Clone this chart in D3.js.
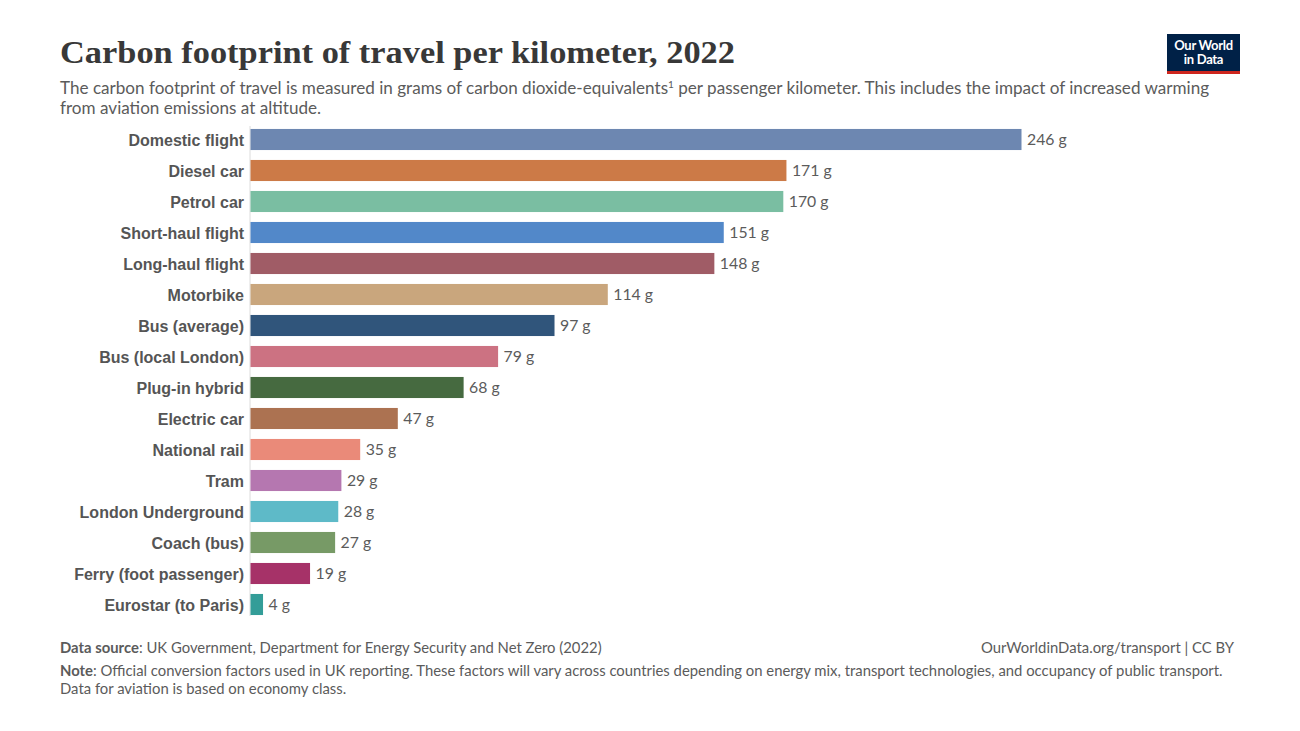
<!DOCTYPE html>
<html lang="en">
<head>
<meta charset="UTF-8">
<title>Carbon footprint of travel per kilometer</title>
<script src="https://cdn.jsdelivr.net/npm/d3@7"></script>
<style>
  body { margin: 0; background: #fff; }
  text { font-family: Lato, "Noto Sans", sans-serif; }
</style>
</head>
<body>
<svg id="chart" width="1300" height="731"></svg>
<script>
    // data
    const modes = ["Domestic flight", "Diesel car", "Petrol car", "Short-haul flight", "Long-haul flight",
        "Motorbike", "Bus (average)", "Bus (local London)", "Plug-in hybrid", "Electric car",
        "National rail", "Tram", "London Underground", "Coach (bus)", "Ferry (foot passenger)", "Eurostar (to Paris)"]
    const grams = [246, 171, 170, 151, 148, 114, 97, 79, 68, 47, 35, 29, 28, 27, 19, 4]
    const barColors = ["#6d87b1", "#cc7a47", "#7abea2", "#5288c9", "#a05c66", "#c9a67d", "#30557b", "#cc7282",
        "#466a40", "#ac7251", "#ea8a79", "#b577b0", "#5ebac8", "#779a66", "#a63268", "#339d98"]

    const svg = d3.select("#chart")

    // header
    svg.append("text")
        .attr("x", 60).attr("y", 63)
        .style("font-family", "'Liberation Serif', 'DejaVu Serif', serif")
        .style("font-weight", "bold")
        .style("font-size", "31px")
        .attr("textLength", 675)
        .attr("lengthAdjust", "spacingAndGlyphs")
        .attr("fill", "#383838")
        .text("Carbon footprint of travel per kilometer, 2022")

    const sub = svg.append("g").style("font-size", "17.1px").attr("fill", "#5b5b5b")
    const line1 = sub.append("text").attr("x", 60).attr("y", 94)
    line1.append("tspan").text("The carbon footprint of travel is measured in grams of carbon dioxide-equivalents")
    line1.append("tspan").attr("dy", -6).style("font-size", "10px").text("1")
    line1.append("tspan").attr("dy", 6).text(" per passenger kilometer. This includes the impact of increased warming")
    sub.append("text").attr("x", 60).attr("y", 114).text("from aviation emissions at altitude.")

    // logo
    const logo = svg.append("g").attr("transform", "translate(1167,34)")
    logo.append("rect").attr("width", 73).attr("height", 40).attr("fill", "#002147")
    logo.append("rect").attr("y", 37).attr("width", 73).attr("height", 3).attr("fill", "#ce261e")
    logo.append("text").attr("x", 36.5).attr("y", 16).attr("text-anchor", "middle")
        .style("font-size", "13px").style("font-weight", "bold").style("letter-spacing", "-0.3px")
        .attr("fill", "#fff").text("Our World")
    logo.append("text").attr("x", 36.5).attr("y", 30).attr("text-anchor", "middle")
        .style("font-size", "13px").style("font-weight", "bold").style("letter-spacing", "-0.3px")
        .attr("fill", "#fff").text("in Data")

    // bars
    const x0 = 250
    const x = d3.scaleLinear().domain([0, 246]).range([x0, 1021])
    const y = d3.scaleBand().domain(modes).range([124, 620]).paddingInner(0.32).paddingOuter(0.16)

    svg.append("line")
        .attr("x1", x0).attr("x2", x0)
        .attr("y1", 126).attr("y2", 616)
        .attr("stroke", "#dcdcdc").attr("stroke-width", 1)

    const rows = svg.append("g").selectAll("g")
        .data(modes)
        .join("g")
        .attr("transform", d => `translate(0,${y(d)})`)

    rows.append("rect")
        .attr("x", x0 + 0.5)
        .attr("width", (d, i) => x(grams[i]) - x0)
        .attr("height", y.bandwidth())
        .attr("fill", (d, i) => barColors[i])

    rows.append("text")
        .attr("x", x0 - 6)
        .attr("y", y.bandwidth() / 2 + 0.5)
        .attr("dy", "0.35em")
        .attr("text-anchor", "end")
        .style("font-family", "'Liberation Sans', Arial, sans-serif")
        .style("font-weight", "bold")
        .style("font-size", "16px")
        .attr("fill", "#555")
        .text(d => d)

    rows.append("text")
        .attr("x", (d, i) => x(grams[i]) + 6)
        .attr("y", y.bandwidth() / 2)
        .attr("dy", "0.35em")
        .style("font-size", "15.8px")
        .attr("fill", "#5b5b5b")
        .text((d, i) => `${grams[i]} g`)

    // footer
    const foot = svg.append("g").style("font-size", "14.85px").attr("fill", "#5b5b5b")
    const src = foot.append("text").attr("x", 60).attr("y", 653)
    src.append("tspan").style("font-weight", "bold").text("Data source")
    src.append("tspan").text(": UK Government, Department for Energy Security and Net Zero (2022)")
    foot.append("text").attr("x", 1234).attr("y", 653).attr("text-anchor", "end")
        .text("OurWorldinData.org/transport | CC BY")
    const note = foot.append("text").attr("x", 60).attr("y", 676)
    note.append("tspan").style("font-weight", "bold").text("Note")
    note.append("tspan").text(": Official conversion factors used in UK reporting. These factors will vary across countries depending on energy mix, transport technologies, and occupancy of public transport.")
    foot.append("text").attr("x", 60).attr("y", 694).text("Data for aviation is based on economy class.")
</script>
</body>
</html>
